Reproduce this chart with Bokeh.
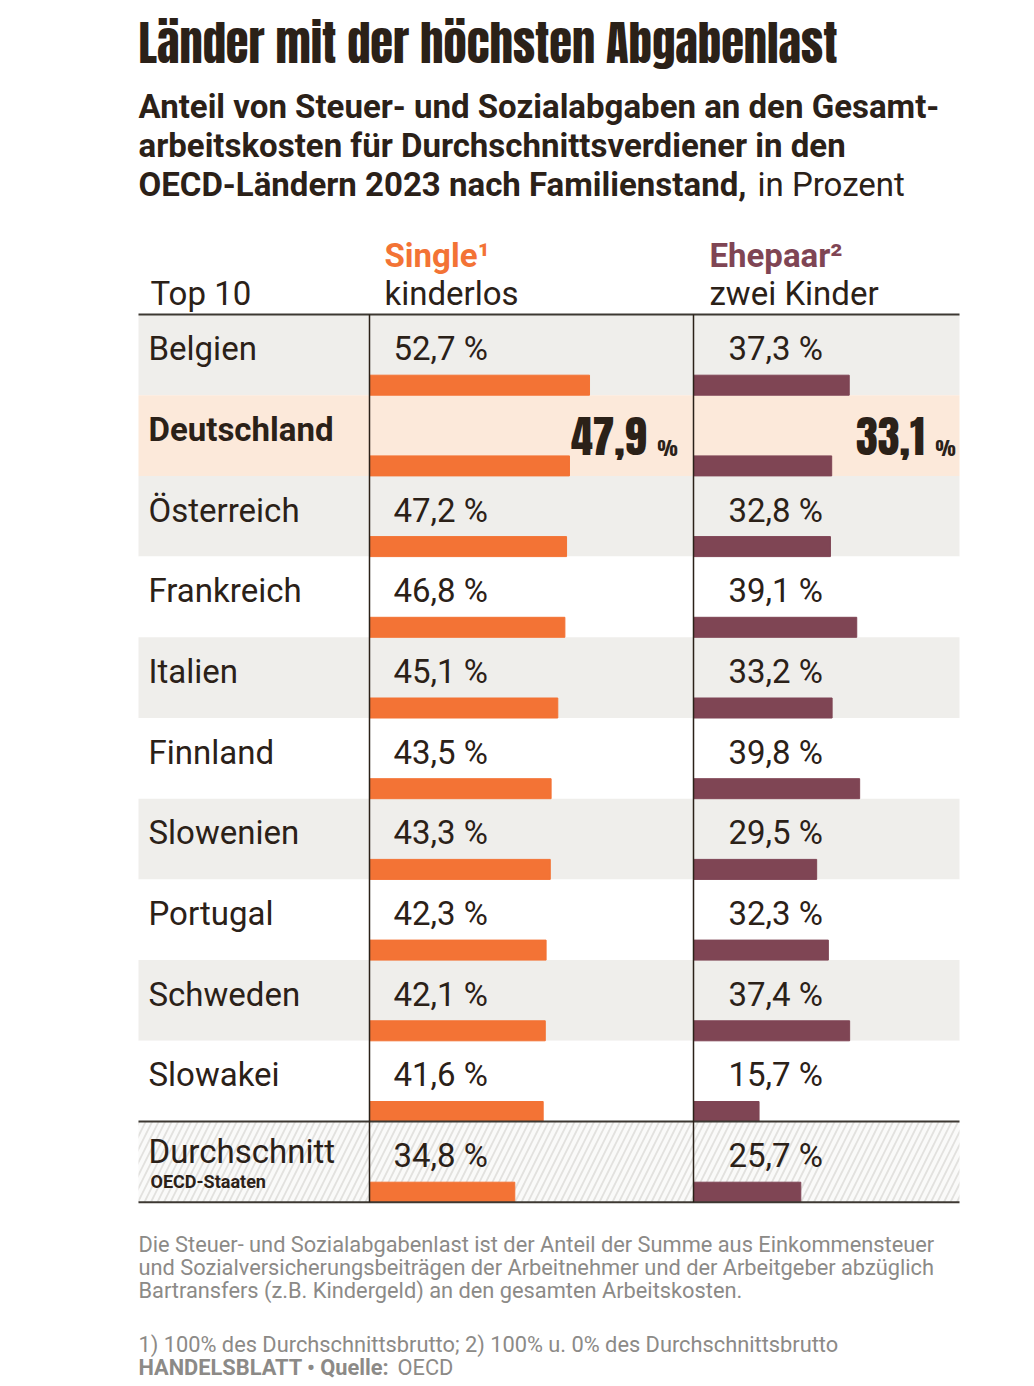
from bokeh.plotting import figure
from bokeh.models import Range1d, ColumnDataSource
from bokeh.core.properties import value
from bokeh.embed import file_html
from bokeh.resources import INLINE

# ---------------- data ----------------
countries = ["Belgien", "Deutschland", "Österreich", "Frankreich", "Italien",
             "Finnland", "Slowenien", "Portugal", "Schweden", "Slowakei", "Durchschnitt"]
single = [52.7, 47.9, 47.2, 46.8, 45.1, 43.5, 43.3, 42.3, 42.1, 41.6, 34.8]
couple = [37.3, 33.1, 32.8, 39.1, 33.2, 39.8, 29.5, 32.3, 37.4, 15.7, 25.7]
highlight = "Deutschland"
average = "Durchschnitt"
average_sub = "OECD-Staaten"

title = "Länder mit der höchsten Abgabenlast"
subtitle = ["Anteil von Steuer- und Sozialabgaben an den Gesamt-",
            "arbeitskosten für Durchschnittsverdiener in den",
            "OECD-Ländern 2023 nach Familienstand,"]
subtitle_tail = "in Prozent"
notes = ["Die Steuer- und Sozialabgabenlast ist der Anteil der Summe aus Einkommensteuer",
         "und Sozialversicherungsbeiträgen der Arbeitnehmer und der Arbeitgeber abzüglich",
         "Bartransfers (z.B. Kindergeld) an den gesamten Arbeitskosten."]
footnote = "1) 100% des Durchschnittsbrutto; 2) 100% u. 0% des Durchschnittsbrutto"
source_bold = "HANDELSBLATT • Quelle:"
source_name = "OECD"

# ---------------- styling ----------------
DARK = "#2b2118"
ORANGE = "#f37335"
PURPLE = "#7f4554"
GREY_TXT = "#8c8a87"
ROW_GREY = "#efeeeb"
ROW_HI = "#fce9da"
FONTS = {"body": ("Roboto", 0.39), "head": ("Anton", 0.45)}

W, H = 1034, 1386
p = figure(width=W, height=H, x_range=Range1d(0, W), y_range=Range1d(H, 0),
           output_backend="svg", toolbar_location=None, min_border=0,
           x_axis_location=None, y_axis_location=None,
           background_fill_color="white", border_fill_color="white")
p.outline_line_color = None
p.grid.visible = False


def T(x, base, texts, size, font="body", bold=False, color=DARK, align="left"):
    """Place texts so that their alphabetic baseline sits at `base` (page pixels)."""
    fam, k = FONTS[font]
    if not isinstance(base, list):
        base = [base]
    ys = [b - k * size for b in base]
    p.text(x=x, y=ys, text=texts, text_font=value(fam),
           text_font_style="bold" if bold else "normal",
           text_font_size=f"{size}px", text_color=color, text_align=align,
           text_baseline="alphabetic")


LEFT, RIGHT = 138, 959
COL1, COL2 = 369, 693
PX = 4.175  # pixels per percentage point
p.extra_x_ranges = {
    "single": Range1d(-COL1 / PX, (W - COL1) / PX),
    "couple": Range1d(-COL2 / PX, (W - COL2) / PX),
}

TOP0, RH = 314, 80.7
n = len(countries)
tops = [TOP0 + i * RH for i in range(n)]
bots = [t + RH for t in tops]

# row backgrounds
fills = []
for i, c in enumerate(countries[:-1]):
    if c == highlight:
        fills.append(ROW_HI)
    elif i % 2 == 0:
        fills.append(ROW_GREY)
    else:
        fills.append("white")
p.quad(left=LEFT, right=RIGHT, top=tops[:-1], bottom=bots[:-1], fill_color=fills, line_color=None)
p.quad(left=LEFT, right=RIGHT, top=tops[-1], bottom=bots[-1], fill_color="#fafaf9", line_color=None,
       hatch_pattern="/", hatch_color="#e2e1de", hatch_scale=13, hatch_weight=1.8)

# bars
BH = 20
bar_y = [b - BH / 2 for b in bots]
src = ColumnDataSource(dict(y=bar_y, s=single, c=couple))
p.hbar(y="y", height=BH, left=0, right="s", source=src, x_range_name="single", color=ORANGE)
p.hbar(y="y", height=BH, left=0, right="c", source=src, x_range_name="couple", color=PURPLE)

# rules
p.segment(x0=[LEFT] * 3, x1=[RIGHT] * 3, y0=[TOP0, tops[-1], bots[-1]],
          y1=[TOP0, tops[-1], bots[-1]], line_color="#3d3832", line_width=2)
p.segment(x0=[COL1, COL2], x1=[COL1, COL2], y0=[TOP0, TOP0], y1=[bots[-1], bots[-1]],
          line_color=DARK, line_width=1.5)


def fmt(v):
    return f"{v:.1f}".replace(".", ",")


BS = 33  # body size
# country labels
reg_idx = [i for i, c in enumerate(countries) if c not in (highlight, average)]
T(148, [tops[i] + 47 for i in reg_idx], [countries[i] for i in reg_idx], BS)
hi = countries.index(highlight)
T(148, tops[hi] + 47, [highlight], BS, bold=True)
av = countries.index(average)
T(148, tops[av] + 43, [average], BS)
T(150, tops[av] + 67, [average_sub], 18, bold=True)

# value labels
val_idx = [i for i in range(n) if countries[i] != highlight]
T(393, [tops[i] + 47 for i in val_idx], [fmt(single[i]) + " %" for i in val_idx], BS)
T(728, [tops[i] + 47 for i in val_idx], [fmt(couple[i]) + " %" for i in val_idx], BS)

# highlighted big values
T([646, 924], [tops[hi] + 61] * 2, [fmt(single[hi]), fmt(couple[hi])], 44, font="head",
  align="right")
T([657, 935], [tops[hi] + 61] * 2, ["%", "%"], 19, font="head")

# header
T(150, 306, ["Top 10"], BS)
T([384, 709], [306, 306], ["kinderlos", "zwei Kinder"], BS)
T(384, 268, ["Single¹"], BS, bold=True, color=ORANGE)
T(709, 268, ["Ehepaar²"], BS, bold=True, color=PURPLE)

# title & subtitle
T(138, 63, [title], 46.5, font="head")
T(138, [119, 158, 197], subtitle, BS, bold=True)
T(757, 197, [subtitle_tail], BS)

# notes
FS = 21.8
T(138, [1253, 1276, 1299], notes, FS, color=GREY_TXT)
T(138, 1353, [footnote], FS, color=GREY_TXT)
T(138, 1376, [source_bold], FS, bold=True, color=GREY_TXT)
T(397, 1376, [source_name], FS, color=GREY_TXT)

open("out.html", "w").write(file_html(p, INLINE))
